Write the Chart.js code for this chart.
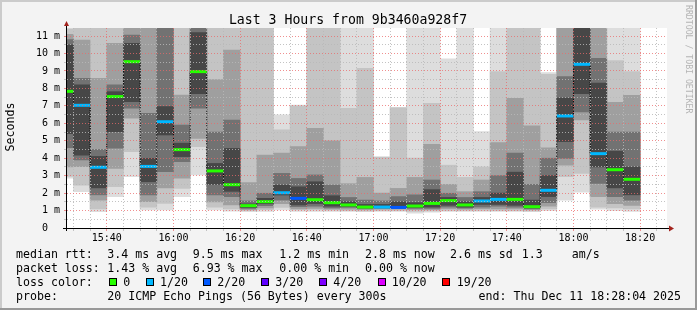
<!DOCTYPE html>
<html lang="en">
<head>
<meta charset="UTF-8">
<title>Last 3 Hours from 9b3460a928f7</title>
<script src="https://cdn.jsdelivr.net/npm/chart.js@4.4.1/dist/chart.umd.min.js"></script>
<style>
  html, body { margin: 0; padding: 0; background: #f3f3f3; }
  #wrap { width: 697px; height: 310px; }
</style>
</head>
<body>
<div id="wrap"><canvas id="smoke" width="697" height="310"></canvas></div>
<script>
// window shown on the graph
var windowStart = '15:28:04';
var windowEnd = '18:28:04';

// end time of every 5 minute step (first one is cut by the window start)
var slotEnd = ['15:30','15:35','15:40','15:45','15:50','15:55','16:00','16:05','16:10','16:15',
               '16:20','16:25','16:30','16:35','16:40','16:45','16:50','16:55','17:00','17:05',
               '17:10','17:15','17:20','17:25','17:30','17:35','17:40','17:45','17:50','17:55',
               '18:00','18:05','18:10','18:15','18:20'];
var hourTicks = ['15:40','16:00','16:20','16:40','17:00','17:20','17:40','18:00','18:20'];

// median rtt (ms) and lost pings out of 20 for each step
var medianMs = [7.83, 7.03, 3.48, 7.53, 9.53, 3.53, 6.09, 4.49, 8.96, 3.27,
                2.48, 1.28, 1.51, 2.02, 1.70, 1.62, 1.45, 1.32, 1.20, 1.20,
                1.18, 1.26, 1.41, 1.57, 1.32, 1.55, 1.64, 1.64, 1.22, 2.16,
                6.42, 9.38, 4.26, 3.34, 2.79];
var lossCount = [0, 1, 1, 0, 0, 1, 1, 0, 0, 0,
                 0, 0, 0, 1, 2, 0, 0, 0, 0, 1,
                 2, 0, 0, 0, 0, 1, 1, 0, 0, 1,
                 1, 1, 1, 0, 0];

// smoke: spread of the 20 pings, outer band first (ms, values past the top are cut)
var smoke1 = [[2.85,12],[2.08,12],[0.94,12],[1.8,12],[2.94,12],[1.03,12],[1.03,12],[1.8,12],[3.04,12],[1.03,12],
              [0.97,12],[0.93,12],[0.95,12],[1.03,6.48],[0.95,7.05],[0.95,12],[0.95,12],[0.95,12],[0.93,12],[0.95,4.09],
              [0.95,6.92],[0.85,12],[0.9,12],[0.95,9.7],[0.95,12],[0.95,5.52],[0.95,12],[0.95,12],[0.93,12],[1.0,8.9],
              [1.6,12],[2.05,12],[1.08,12],[1.0,12],[0.95,12]];
var smoke2 = [[2.95,11.4],[2.46,12],[1.1,12],[2.37,12],[4.37,12],[1.2,12],[1.41,12],[2.27,12],[4.66,12],[1.2,12],
              [1.1,12],[1.0,12],[1.05,12],[1.18,5.62],[1.03,7.0],[1.03,12],[1.02,12],[1.0,6.86],[0.98,9.15],[1.0,4.05],
              [1.0,6.88],[0.95,4.0],[0.98,7.14],[1.0,3.6],[1.0,2.9],[1.0,3.5],[1.0,8.96],[1.0,12],[0.98,12],[1.1,8.8],
              [2.94,12],[3.13,12],[1.2,12],[1.15,9.6],[1.1,8.96]];
var smoke3 = [[3.5,11.1],[3.51,10.77],[1.6,8.58],[3.42,10.58],[6.3,12],[1.51,12],[2.3,12],[2.85,7.62],[5.14,12],[1.5,8.5],
              [1.32,10.2],[1.05,2.6],[1.15,4.18],[1.4,4.3],[1.1,4.66],[1.12,5.71],[1.08,5.0],[1.08,2.54],[1.05,2.9],[1.08,2.0],
              [1.08,2.27],[1.05,2.9],[1.05,4.8],[1.1,2.5],[1.08,2.08],[1.1,2.75],[1.1,4.9],[1.1,7.43],[1.05,5.85],[1.25,4.6],
              [3.6,12],[6.2,12],[1.8,12],[1.4,7.2],[1.3,7.6]];
var smoke4 = [[4.6,10.8],[3.9,8.58],[1.9,4.5],[4.57,8.2],[6.86,11.05],[1.89,6.57],[3.23,12],[3.8,5.9],[6.86,12],[1.9,5.5],
              [1.8,6.19],[1.12,1.55],[1.28,1.99],[1.6,3.13],[1.22,2.84],[1.25,3.04],[1.15,2.46],[1.18,1.75],[1.12,1.6],[1.13,1.55],
              [1.12,1.8],[1.12,1.9],[1.12,2.75],[1.2,1.99],[1.14,1.75],[1.2,2.08],[1.25,3.0],[1.2,4.3],[1.1,2.5],[1.45,4.0],
              [3.99,8.67],[6.65,12],[2.56,9.72],[1.8,5.5],[1.6,5.5]];
var smoke5 = [[5.4,10.5],[4.18,8.2],[2.3,4.1],[5.52,7.81],[7.24,10.58],[2.65,3.99],[5.33,6.96],[4.09,4.86],[7.7,11.2],[2.5,3.7],
              [2.1,4.56],[1.18,1.38],[1.4,1.7],[1.89,2.46],[1.32,2.36],[1.4,2.65],[1.25,1.85],[1.24,1.5],[1.15,1.35],[1.16,1.35],
              [1.15,1.5],[1.18,1.45],[1.2,2.2],[1.3,1.75],[1.2,1.5],[1.35,1.75],[1.35,2.0],[1.3,3.2],[1.15,1.6],[1.8,3.0],
              [4.95,7.45],[7.7,12],[3.5,8.3],[2.3,4.4],[1.9,3.5]];

// legend texts
var rttStats = ['3.4 ms avg', '9.5 ms max', '1.2 ms min', '2.8 ms now', '2.6 ms sd', '1.3', 'am/s'];
var lossStats = ['1.43 % avg', '6.93 % max', '0.00 % min', '0.00 % now'];
var lossLabels = ['0', '1/20', '2/20', '3/20', '4/20', '10/20', '19/20'];
var lossColors = ['#26ff00', '#00b8ff', '#0059ff', '#5e00ff', '#7e00ff', '#dd00ff', '#ff0000'];
var lossSteps = [0, 1, 2, 3, 4, 10, 19];

function toMin(s) {
  var p = s.split(':').map(Number);
  return p[0] * 60 + p[1] + (p[2] || 0) / 60;
}
function lossColor(n) {
  var c = lossColors[0];
  for (var i = 0; i < lossSteps.length; i++) if (n >= lossSteps[i]) c = lossColors[i];
  return c;
}

var xMin = toMin(windowStart), xMax = toMin(windowEnd);
var slotEndMin = slotEnd.map(toMin);
var majorTicks = hourTicks.map(toMin);

var smokeColors = ['#dddddd', '#c4c4c4', '#9f9f9f', '#727272', '#474747'];
var datasets = [];
[smoke1, smoke2, smoke3, smoke4, smoke5].forEach(function (band, i) {
  datasets.push({
    type: 'bar',
    data: band.map(function (r, k) { return { x: slotEndMin[k] - 2.5, y: r }; }),
    backgroundColor: smokeColors[i],
    borderWidth: 0,
    grouped: false,
    barPercentage: 1,
    categoryPercentage: 1,
    clip: 0,
    order: 10 - i
  });
});

var steps = [];
medianMs.forEach(function (m, k) {
  steps.push({ x: slotEndMin[k] - 5, y: m });
  steps.push({ x: slotEndMin[k], y: m });
});

// thin dotted step line joining the medians
datasets.push({
  type: 'line',
  data: steps,
  borderColor: '#000000',
  borderWidth: 1,
  borderDash: [1, 1],
  pointRadius: 0,
  tension: 0,
  clip: 0,
  order: 2
});
// median, coloured by packet loss
datasets.push({
  type: 'line',
  data: steps,
  borderWidth: 3,
  borderCapStyle: 'butt',
  pointRadius: 0,
  tension: 0,
  clip: 0,
  order: 1,
  segment: {
    borderColor: function (ctx) {
      if (ctx.p0.parsed.x === ctx.p1.parsed.x) return 'rgba(0,0,0,0)';
      return lossColor(lossCount[Math.floor(ctx.p0DataIndex / 2)]);
    }
  }
});

var gridMinor = 'rgba(185,185,185,0.85)';
var gridMajor = 'rgba(235,105,105,0.75)';
var mono = '"DejaVu Sans Mono", monospace';

var rrdFrame = {
  id: 'rrdFrame',
  beforeDraw: function (chart) {
    var c = chart.ctx, a = chart.chartArea, w = chart.width, h = chart.height;
    c.save();
    c.fillStyle = '#f3f3f3';
    c.fillRect(0, 0, w, h);
    c.fillStyle = '#cbcbcb';
    c.fillRect(0, 0, w, 2);
    c.fillRect(0, 0, 2, h);
    c.fillStyle = '#999999';
    c.fillRect(0, h - 2, w, 2);
    c.fillRect(w - 2, 0, 2, h);
    c.fillStyle = '#ffffff';
    c.fillRect(a.left, a.top, a.right - a.left, a.bottom - a.top);
    c.restore();
  },
  afterDraw: function (chart) {
    var c = chart.ctx, a = chart.chartArea;
    c.save();
    // axes + arrows
    c.strokeStyle = '#000000';
    c.lineWidth = 1;
    c.beginPath();
    c.moveTo(a.left - 0.5, a.bottom + 3);
    c.lineTo(a.left - 0.5, a.top - 3);
    c.moveTo(a.left - 4, a.bottom + 0.5);
    c.lineTo(a.right + 2, a.bottom + 0.5);
    c.stroke();
    c.fillStyle = '#a3231d';
    c.beginPath();
    c.moveTo(a.left - 0.5, a.top - 7);
    c.lineTo(a.left - 3, a.top - 2);
    c.lineTo(a.left + 2, a.top - 2);
    c.closePath();
    c.fill();
    c.beginPath();
    c.moveTo(a.right + 7, a.bottom + 0.5);
    c.lineTo(a.right + 2, a.bottom - 2.5);
    c.lineTo(a.right + 2, a.bottom + 3.5);
    c.closePath();
    c.fill();

    // title
    c.fillStyle = '#000000';
    c.font = '13.2px ' + mono;
    c.textAlign = 'center';
    c.textBaseline = 'alphabetic';
    c.fillText('Last 3 Hours from 9b3460a928f7', 348, 24);

    // vertical axis title
    c.font = '11.6px ' + mono;
    c.save();
    c.translate(11, 127);
    c.rotate(-Math.PI / 2);
    c.textBaseline = 'middle';
    c.fillText('Seconds', 0, 0);
    c.restore();

    // watermark
    c.save();
    c.fillStyle = '#b4b4b4';
    c.font = '8.2px ' + mono;
    c.translate(688, 5);
    c.rotate(Math.PI / 2);
    c.textAlign = 'left';
    c.textBaseline = 'middle';
    c.fillText('RRDTOOL / TOBI OETIKER', 0, 0);
    c.restore();

    // legend
    c.textAlign = 'left';
    c.font = '11.6px ' + mono;
    var rttX = [107.3, 192.7, 279.3, 365, 450, 521.7, 571.7];
    c.fillText('median rtt:', 16, 258);
    rttStats.forEach(function (s, i) { c.fillText(s, rttX[i], 258); });
    c.fillText('packet loss:', 16, 272);
    lossStats.forEach(function (s, i) { c.fillText(s, rttX[i], 272); });
    c.fillText('loss color:', 16, 286);
    var boxX = [109, 146, 203.3, 261, 319.3, 377.7, 441.7];
    var labX = [123.3, 160, 217.3, 275.3, 333.3, 391.7, 456.7];
    lossLabels.forEach(function (s, i) {
      c.fillStyle = lossColors[i];
      c.fillRect(Math.round(boxX[i]), 278, 8, 8);
      c.strokeStyle = '#000000';
      c.strokeRect(Math.round(boxX[i]) + 0.5, 278.5, 7, 7);
      c.fillStyle = '#000000';
      c.fillText(s, labX[i], 286);
    });
    c.fillText('probe:', 16, 300);
    c.fillText('20 ICMP Echo Pings (56 Bytes) every 300s', 107.3, 300);
    c.textAlign = 'right';
    c.fillText('end: Thu Dec 11 18:28:04 2025', 681, 300);
    c.restore();
  }
};

Chart.defaults.font.family = mono;

new Chart(document.getElementById('smoke'), {
  type: 'bar',
  data: { datasets: datasets },
  plugins: [rrdFrame],
  options: {
    responsive: false,
    animation: false,
    events: [],
    layout: { padding: { left: 0, top: 28, right: 30, bottom: 0 } },
    plugins: { legend: { display: false }, tooltip: { enabled: false } },
    scales: {
      x: {
        type: 'linear',
        min: xMin,
        max: xMax,
        offset: false,
        afterBuildTicks: function (scale) {
          var t = [];
          for (var v = slotEndMin[0]; v < xMax; v += 5) t.push({ value: v });
          scale.ticks = t;
        },
        afterFit: function (scale) { scale.height = 82; },
        ticks: {
          autoSkip: false,
          maxRotation: 0,
          padding: 1,
          color: '#000000',
          font: { size: 10 },
          callback: function (v) {
            var i = majorTicks.indexOf(v);
            return i >= 0 ? hourTicks[i] : '';
          }
        },
        grid: {
          offset: false,
          z: 1,
          tickLength: 3,
          color: function (ctx) { return majorTicks.indexOf(ctx.tick.value) >= 0 ? gridMajor : gridMinor; },
          tickColor: function (ctx) { return majorTicks.indexOf(ctx.tick.value) >= 0 ? gridMajor : gridMinor; }
        },
        border: { display: false, dash: [1, 2] }
      },
      y: {
        type: 'linear',
        min: 0,
        max: 11.46,
        afterBuildTicks: function (scale) {
          var t = [];
          for (var v = 0; v <= 11; v += 0.5) t.push({ value: v });
          scale.ticks = t;
        },
        afterFit: function (scale) { scale.width = 67; },
        ticks: {
          autoSkip: false,
          padding: 4,
          color: '#000000',
          font: { size: 10 },
          callback: function (v) {
            if (v === 0) return '0  ';
            return Number.isInteger(v) ? v + ' m' : '';
          }
        },
        grid: {
          z: 1,
          tickLength: 3,
          color: function (ctx) { return Number.isInteger(ctx.tick.value) ? gridMajor : gridMinor; },
          tickColor: function (ctx) { return Number.isInteger(ctx.tick.value) ? gridMajor : gridMinor; }
        },
        border: { display: false, dash: [1, 2] }
      }
    }
  }
});
</script>
</body>
</html>
